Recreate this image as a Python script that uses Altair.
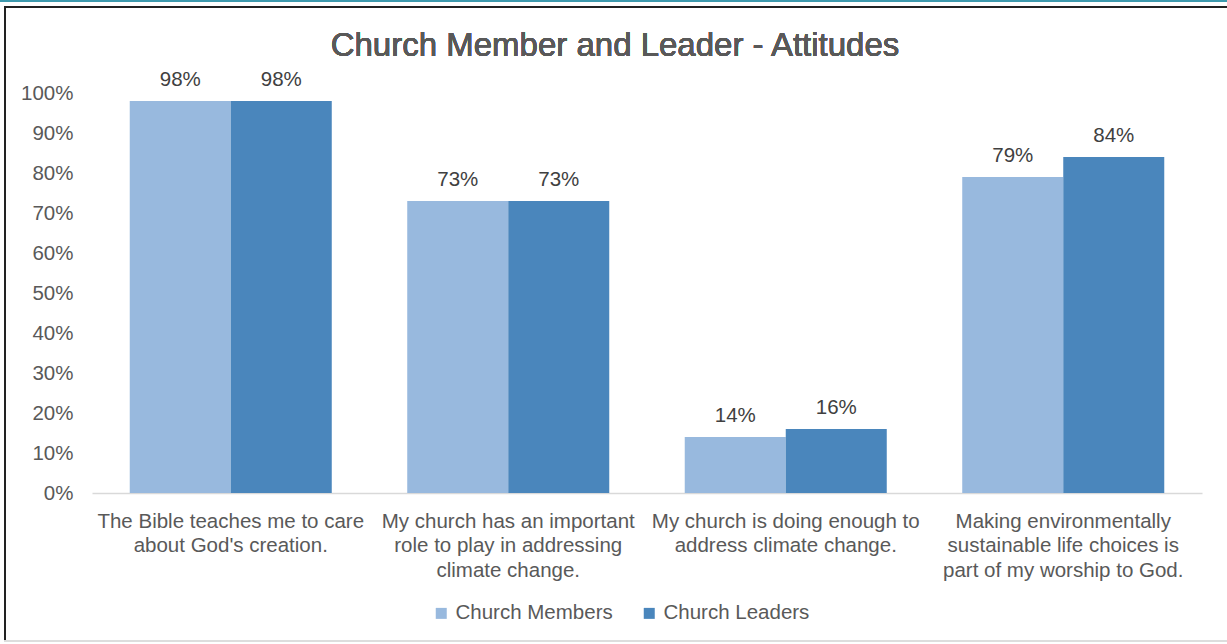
import altair as alt
import pandas as pd

title_text = "Church Member and Leader - Attitudes"
categories = [
    "The Bible teaches me to care\nabout God's creation.",
    "My church has an important\nrole to play in addressing\nclimate change.",
    "My church is doing enough to\naddress climate change.",
    "Making environmentally\nsustainable life choices is\npart of my worship to God.",
]
series = ["Church Members", "Church Leaders"]
members = [98, 73, 14, 79]
leaders = [98, 73, 16, 84]
colors = ["#98B9DE", "#4A86BC"]

rows = []
for c, m, l in zip(categories, members, leaders):
    rows.append({"category": c, "series": series[0], "value": m / 100})
    rows.append({"category": c, "series": series[1], "value": l / 100})
df = pd.DataFrame(rows)

FONT = "Liberation Sans"
TXT = "#595959"
OX, OY = 92, 93
FS = 20.5

x = alt.X("category:N", sort=categories, title=None,
          scale=alt.Scale(paddingInner=0.272, paddingOuter=0.136),
          axis=alt.Axis(labelExpr="split(datum.label, '\\n')", labelAngle=0,
                        labelFontSize=FS, labelColor=TXT, labelFont=FONT,
                        labelLineHeight=24.5, labelPadding=18, ticks=False,
                        domainColor="#D9D9D9", domainWidth=1.5, labelLimit=400))
y = alt.Y("value:Q", title=None,
          scale=alt.Scale(domain=[0, 1], nice=False),
          axis=alt.Axis(format=".0%", values=[i / 10 for i in range(11)],
                        grid=False, domain=False, ticks=False,
                        labelFontSize=FS, labelColor=TXT, labelFont=FONT,
                        labelPadding=19))

base = alt.Chart(df).encode(
    x=x, y=y,
    xOffset=alt.XOffset("series:N", sort=series),
)

bars = base.mark_bar().encode(
    color=alt.Color("series:N", sort=series,
                    scale=alt.Scale(domain=series, range=colors),
                    legend=alt.Legend(title=None, orient="none", direction="horizontal",
                                      legendX=339, legendY=510,
                                      symbolType="square", symbolSize=121,
                                      symbolStrokeWidth=0, labelFontSize=FS,
                                      labelFont=FONT, labelColor=TXT,
                                      columnPadding=26, labelOffset=4))
)
labels = base.mark_text(baseline="bottom", dy=-11, fontSize=FS, font=FONT,
                        color="#404040").encode(text=alt.Text("value:Q", format=".0%"))

title = alt.Chart(df).mark_text(fontSize=33, font=FONT, fontWeight="normal", color=TXT,
                                baseline="middle", align="center", clip=False).encode(
    x=alt.value(615 - OX), y=alt.value(46 - OY), text=alt.value(title_text))

frame_top = alt.Chart(df).mark_rule(color="#222222", strokeWidth=2, clip=False).encode(
    x=alt.value(4 - OX), x2=alt.value(1227 - OX), y=alt.value(7 - OY))
frame_left = alt.Chart(df).mark_rule(color="#222222", strokeWidth=2, clip=False).encode(
    x=alt.value(5 - OX), y=alt.value(7 - OY), y2=alt.value(641 - OY))
frame_bottom = alt.Chart(df).mark_rule(color="#DDDDDD", strokeWidth=1.5, clip=False).encode(
    x=alt.value(4 - OX), x2=alt.value(1227 - OX), y=alt.value(641 - OY))
teal = alt.Chart(df).mark_rule(color="#3E9AAE", strokeWidth=2, clip=False).encode(
    x=alt.value(0 - OX), x2=alt.value(1227 - OX), y=alt.value(1 - OY))

chart = alt.layer(bars, labels, title, frame_top, frame_left, frame_bottom, teal).properties(
    width=1110, height=400,
    padding={"left": OX, "top": OY, "right": 25, "bottom": 151},
    autosize=alt.AutoSizeParams(type="none"),
    background="white",
).configure_view(stroke=None)

chart.save("out.html", embed_options={"renderer": "svg", "actions": False})
